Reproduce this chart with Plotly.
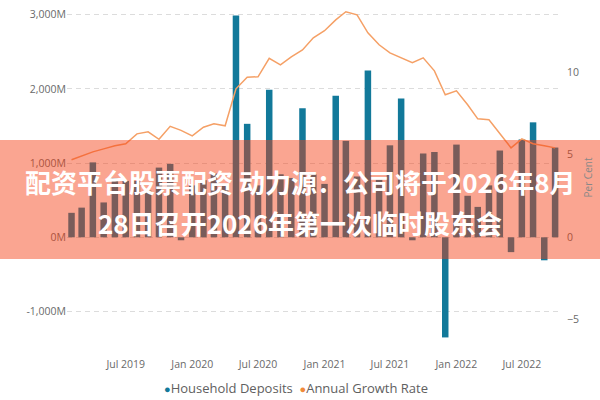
import plotly.graph_objects as go

# ---- data ----
months = ["2019-02", "2019-03", "2019-04", "2019-05", "2019-06", "2019-07", "2019-08", "2019-09",
          "2019-10", "2019-11", "2019-12", "2020-01", "2020-02", "2020-03", "2020-04", "2020-05",
          "2020-06", "2020-07", "2020-08", "2020-09", "2020-10", "2020-11", "2020-12", "2021-01",
          "2021-02", "2021-03", "2021-04", "2021-05", "2021-06", "2021-07", "2021-08", "2021-09",
          "2021-10", "2021-11", "2021-12", "2022-01", "2022-02", "2022-03", "2022-04", "2022-05",
          "2022-06", "2022-07", "2022-08", "2022-09", "2022-10"]

household_deposits = [330, 400, 1010, 470, 800, 760, 760, 630, 940, 990, -40, 700, 770, 860, 720,
                      2990, 1530, 700, 1990, 850, 800, 1740, 850, 720, 1910, 1300, 820, 2250, 780,
                      1240, 1870, -40, 1130, 1150, -1350, 1250, 560, 410, 700, 1170, -200, 1320,
                      1550, -310, 1210]

annual_growth_rate = [4.70, 4.94, 5.18, 5.36, 5.55, 5.67, 6.27, 6.39, 5.94, 6.73, 6.48, 6.15, 6.67,
                      6.88, 6.76, 9.00, 9.70, 9.73, 10.85, 10.45, 10.94, 11.36, 12.09, 12.52, 13.18,
                      13.67, 13.48, 12.39, 11.67, 11.18, 10.88, 10.58, 10.88, 10.09, 8.64, 8.88,
                      8.03, 7.18, 7.12, 6.27, 5.42, 5.97, 5.67, 5.55, 5.42]

left_tickvals = [-1000, 0, 1000, 2000, 3000]
left_ticktext = ["-1,000M", "0M", "1,000M", "2,000M", "3,000M"]
right_tickvals = [-5, 0, 5, 10]
x_tickvals = ["2019-07-01", "2020-01-01", "2020-07-01", "2021-01-01", "2021-07-01", "2022-01-01", "2022-07-01"]

series_names = ["Household Deposits", "Annual Growth Rate"]
overlay_line1 = "配资平台股票配资 动力源：公司将于2026年8月"
overlay_line2 = "28日召开2026年第一次临时股东会"

# ---- styles ----
TEAL = "#12799A"
ORANGE = "#F5A066"
LEGEND_ORANGE = "#F08A3A"
TICK_FONT = dict(family="Open Sans", size=10.5, color="#6A6A6A")

fig = go.Figure()
fig.add_trace(go.Bar(
    x=months, y=household_deposits, name=series_names[0],
    marker=dict(color=TEAL, line=dict(width=0)),
    width=18 * 24 * 3600 * 1000, showlegend=False, yaxis="y",
))
fig.add_trace(go.Scatter(
    x=months, y=annual_growth_rate, name=series_names[1], mode="lines",
    line=dict(color=ORANGE, width=1.5), showlegend=False, yaxis="y2",
))

plot_l, plot_r, plot_t, plot_b = 67, 559, 5, 350
W, H = 600, 400
pw, ph = plot_r - plot_l, plot_b - plot_t

fig.update_layout(
    width=W, height=H,
    margin=dict(l=plot_l, r=W - plot_r, t=plot_t, b=H - plot_b, autoexpand=False),
    paper_bgcolor="white", plot_bgcolor="white",
    font=dict(family="Open Sans", size=11, color="#666666"),
    showlegend=False,
    xaxis=dict(
        type="date", range=["2019-01-19 12:00", "2022-10-11 18:00"],
        tickvals=x_tickvals, tickformat="%b %Y", showgrid=False, zeroline=False,
        showline=False, ticks="", tickfont=TICK_FONT, ticklabelstandoff=6,
    ),
    yaxis=dict(
        range=[-1519.5, 3132], tickvals=left_tickvals, ticktext=left_ticktext,
        showgrid=True, gridcolor="#DCDCDC", gridwidth=1, griddash="5px,4px",
        zeroline=False, showline=False, ticks="", tickfont=TICK_FONT,
    ),
    yaxis2=dict(
        overlaying="y", side="right", range=[-6.83, 14.08], tickvals=right_tickvals,
        showgrid=False, zeroline=False, showline=False, ticks="", tickfont=TICK_FONT,
        ticklabelstandoff=7,
        title=dict(text="Per Cent", font=dict(family="Open Sans", size=10, color="#888888"), standoff=6),
    ),
)

# legend: coloured dots followed by the series names
legend_text = (
    f"<span style='color:{TEAL};font-size:11px'>●</span>{series_names[0]}  "
    f"<span style='color:{LEGEND_ORANGE};font-size:11px'>●</span>{series_names[1]}"
)
fig.add_annotation(
    text=legend_text, xref="paper", yref="paper",
    x=(296 - plot_l) / pw, y=(plot_b - 388) / ph, xanchor="center", yanchor="middle",
    showarrow=False, font=dict(family="Open Sans", size=13, color="#606060"),
)

# semi-transparent banner across the whole picture
fig.add_shape(
    type="rect", xref="paper", yref="paper", layer="above",
    x0=-plot_l / pw, x1=(W - plot_l) / pw,
    y0=(plot_b - 259) / ph, y1=(plot_b - 140) / ph,
    fillcolor="rgba(244,58,16,0.46)", line=dict(width=0),
)
for text, ypix in ((overlay_line1, 181), (overlay_line2, 222)):
    fig.add_annotation(
        text=f"<b>{text}</b>", xref="paper", yref="paper",
        x=(300 - plot_l) / pw, y=(plot_b - ypix) / ph, xanchor="center", yanchor="middle",
        showarrow=False, font=dict(family="Noto Sans CJK SC", size=26, color="white"),
    )

fig.write_html("out.html", config={"displayModeBar": False},
               post_script="document.body.style.margin='0';")
